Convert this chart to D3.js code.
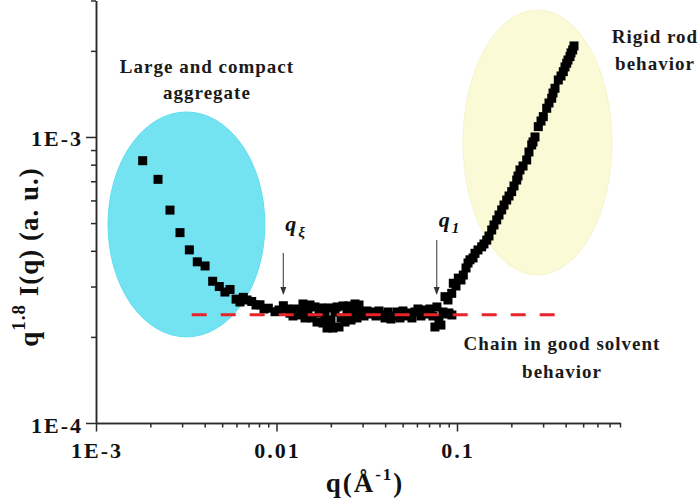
<!DOCTYPE html>
<html><head><meta charset="utf-8">
<script src="https://cdn.jsdelivr.net/npm/d3@7"></script>
<style>body{margin:0;background:#fff}svg{display:block}</style>
</head><body>
<script>
// ---- data ----
// low-q decay
const qLow = [0.001814,0.002206,0.00257,0.00292,0.00329,0.00364,0.00402,0.00443,0.00482,0.00518,
  0.00553,0.00597,0.00655,0.00729,0.0081,0.00901,0.00981,0.01091,0.01188,
  0.006278,0.006865,0.0077,0.008526,0.01032,0.01143];
const iLow = [8.26e-4,7.11e-4,5.55e-4,4.63e-4,4.03e-4,3.66e-4,3.54e-4,3.13e-4,3.00e-4,2.87e-4,
  2.93e-4,2.71e-4,2.75e-4,2.66e-4,2.59e-4,2.52e-4,2.45e-4,2.57e-4,2.42e-4,
  2.649e-4,2.692e-4,2.586e-4,2.504e-4,2.484e-4,2.504e-4];
// plateau
const qMid = [0.01234,0.01266,0.01316,0.01367,0.01402,0.01439,0.01495,0.01533,0.01573,0.01634,
  0.01677,0.0172,0.01764,0.0181,0.01857,0.01905,0.01954,0.02004,0.02056,0.02109,
  0.02164,0.0222,0.02277,0.02336,0.02396,0.02458,0.02522,0.02587,0.02654,0.02722,
  0.02793,0.02865,0.02939,0.03053,0.03172,0.03296,0.03424,0.03557,0.03696,0.0384,
  0.0399,0.04146,0.04307,0.04475,0.04649,0.04831,0.05019,0.05215,0.05418,0.05629,
  0.05848,0.06076,0.06313,0.06559,0.06815,0.07081,0.07357,0.07546,0.07741,0.07941,
  0.08146,0.08356,0.08682,0.09021,0.09372];
const iMid = [2.367e-4,2.504e-4,2.386e-4,2.464e-4,2.607e-4,2.329e-4,2.464e-4,2.586e-4,2.329e-4,2.545e-4,
  2.254e-4,2.425e-4,2.525e-4,2.236e-4,2.367e-4,2.148e-4,2.525e-4,2.291e-4,2.148e-4,2.444e-4,
  2.545e-4,2.166e-4,2.329e-4,2.566e-4,2.254e-4,2.405e-4,2.566e-4,2.291e-4,2.444e-4,2.607e-4,
  2.329e-4,2.586e-4,2.444e-4,2.367e-4,2.464e-4,2.405e-4,2.444e-4,2.367e-4,2.464e-4,2.386e-4,
  2.329e-4,2.444e-4,2.31e-4,2.367e-4,2.444e-4,2.329e-4,2.464e-4,2.367e-4,2.425e-4,2.329e-4,
  2.444e-4,2.504e-4,2.367e-4,2.484e-4,2.405e-4,2.504e-4,2.367e-4,2.166e-4,2.545e-4,2.291e-4,
  2.2e-4,2.444e-4,2.405e-4,2.425e-4,2.386e-4];
// high-q rise
const qHigh = [0.0858,0.0935,0.0954,0.1017,0.1084,0.118,0.1258,0.137,0.1461,0.1557,
  0.166,0.1769,0.1885,0.2009,0.2142,0.2234,0.2433,0.2594,0.2705,0.2821,
  0.3007,0.3141,0.3348,0.3491,0.3641,0.3881,0.4053,0.4227,0.4375,
  0.08914,0.09873,0.1052,0.1122,0.1151,0.1227,0.1307,0.1411,0.1504,0.1603,
  0.1709,0.1822,0.1942,0.2069,0.2178,0.2322,0.2505,0.2637,0.2921,0.3234,
  0.3404,0.377,0.3966,0.4121,0.4281,0.4449];
const iHigh = [2.765e-4,2.84e-4,3.08e-4,3.21e-4,3.29e-4,3.72e-4,3.92e-4,4.13e-4,4.36e-4,4.73e-4,
  5.13e-4,5.56e-4,6.02e-4,6.44e-4,7.07e-4,7.67e-4,8.31e-4,9.38e-4,1.0e-3,1.087e-3,
  1.178e-3,1.26e-3,1.366e-3,1.48e-3,1.582e-3,1.692e-3,1.81e-3,1.91e-3,2.015e-3,
  2.692e-4,3.013e-4,3.162e-4,3.483e-4,3.626e-4,3.775e-4,4.027e-4,4.226e-4,4.507e-4,4.925e-4,
  5.337e-4,5.783e-4,6.218e-4,6.74e-4,7.305e-4,7.916e-4,8.863e-4,9.605e-4,1.137e-3,1.315e-3,
  1.425e-3,1.634e-3,1.757e-3,1.858e-3,1.967e-3,2.081e-3];

const xMajorTicks = [0.001, 0.01, 0.1];
const xTickLabels = ["1E-3", "0.01", "0.1"];
const yMajorTicks = [1e-4, 1e-3];
const yTickLabels = ["1E-4", "1E-3"];
const xDomain = [0.001, 0.8];
const yDomain = [1e-4, 3e-3];
const plateauLevel = 2.39e-4;
const plateauRange = [0.00339, 0.35];
const arrowQ = [0.01091, 0.0772];
const arrowFrom = [3.93e-4, 4.36e-4];
const arrowTo = [2.80e-4, 2.80e-4];
const arrowSub = ["ξ", "1"];
const regionQ = [[0.001166, 0.00862], [0.108, 0.722]];
const regionI = [[2.0e-4, 1.223e-3], [3.29e-4, 2.78e-3]];
const regionFill = ["#74e3f1", "#fbfad6"];
const regionStroke = ["#5edef0", "#f6f4cf"];
const noteLines = [["Large and compact", "aggregate"], ["Rigid rod", "behavior"], ["Chain in good solvent", "behavior"]];

// ---- chart ----
const W = 700, H = 504;
const svg = d3.select("body").append("svg").attr("width", W).attr("height", H);
const x = d3.scaleLog().domain(xDomain).range([96, 620]);
const y = d3.scaleLog().domain(yDomain).range([423, 0.5]);
const font = "'Liberation Serif','Times New Roman',serif";

// shaded regions
regionQ.forEach((rq, k) => {
  const x0 = x(rq[0]), x1 = x(rq[1]), y0 = y(regionI[k][0]), y1 = y(regionI[k][1]);
  svg.append("ellipse")
    .attr("cx", (x0 + x1) / 2).attr("cy", (y0 + y1) / 2)
    .attr("rx", (x1 - x0) / 2).attr("ry", (y0 - y1) / 2)
    .attr("fill", regionFill[k]).attr("stroke", regionStroke[k]).attr("stroke-width", 1);
});

// data markers
const qAll = qLow.concat(qMid, qHigh);
const iAll = iLow.concat(iMid, iHigh);
const pts = qAll.map((q, i) => ({q, v: iAll[i]}));
const S = 9;
svg.append("g").selectAll("rect").data(pts).join("rect")
  .attr("x", d => x(d.q) - S / 2).attr("y", d => y(d.v) - S / 2)
  .attr("width", S).attr("height", S).attr("fill", "#000");

// plateau dashed line
svg.append("line")
  .attr("x1", x(plateauRange[0])).attr("x2", x(plateauRange[1]))
  .attr("y1", y(plateauLevel)).attr("y2", y(plateauLevel))
  .attr("stroke", "#e8232a").attr("stroke-width", 3).attr("stroke-dasharray", "15,14");

// axes
const minorX = [];
[0.001, 0.01, 0.1].forEach(d => { for (let m = 2; m <= 9; m++) { const v = d * m; if (v <= 0.8001) minorX.push(v); } });
const minorY = [];
[1e-4, 1e-3].forEach(d => { for (let m = 2; m <= 9; m++) { const v = d * m; if (v <= 3.0001e-3) minorY.push(v); } });

function styleAxis(g) {
  g.selectAll("path,line").attr("stroke", "#2a2a2a").attr("stroke-width", 1.5);
  g.selectAll("text").remove();
}
svg.append("g").attr("transform", "translate(0,423)")
  .call(d3.axisBottom(x).tickValues(minorX).tickSize(4.5).tickSizeOuter(0).tickFormat("")).call(styleAxis);
svg.append("g").attr("transform", "translate(0,423)")
  .call(d3.axisBottom(x).tickValues(xMajorTicks).tickSize(8.5).tickSizeOuter(0).tickFormat("")).call(styleAxis);
svg.append("g").attr("transform", "translate(96,0)")
  .call(d3.axisLeft(y).tickValues(minorY).tickSize(5).tickSizeOuter(0).tickFormat("")).call(styleAxis);
svg.append("g").attr("transform", "translate(96,0)")
  .call(d3.axisLeft(y).tickValues(yMajorTicks).tickSize(10).tickSizeOuter(0).tickFormat("")).call(styleAxis);

// tick labels
svg.append("g").selectAll("text").data(xMajorTicks).join("text")
  .attr("x", d => x(d) + 1).attr("y", 458).attr("text-anchor", "middle")
  .attr("font-family", font).attr("font-weight", "bold").attr("font-size", 22)
  .attr("letter-spacing", 2).attr("fill", "#111")
  .text((d, i) => xTickLabels[i]);
svg.append("g").selectAll("text").data(yMajorTicks).join("text")
  .attr("x", 83).attr("y", d => y(d) + 9.5).attr("text-anchor", "end")
  .attr("font-family", font).attr("font-weight", "bold").attr("font-size", 22)
  .attr("letter-spacing", 2).attr("fill", "#111")
  .text((d, i) => yTickLabels[i]);

// axis titles
const xt = svg.append("text").attr("x", 365).attr("y", 492).attr("text-anchor", "middle")
  .attr("font-family", font).attr("font-weight", "bold").attr("font-size", 27)
  .attr("letter-spacing", 2).attr("fill", "#111");
xt.append("tspan").text("q(Å");
xt.append("tspan").attr("dy", -12).attr("font-size", 17).text("-1");
xt.append("tspan").attr("dy", 12).text(")");

const yt = svg.append("text").attr("transform", "translate(38,257) rotate(-90)")
  .attr("text-anchor", "middle")
  .attr("font-family", font).attr("font-weight", "bold").attr("font-size", 27)
  .attr("letter-spacing", 1).attr("fill", "#111");
yt.append("tspan").text("q");
yt.append("tspan").attr("dy", -13).attr("font-size", 19).text("1.8");
yt.append("tspan").attr("dy", 13).text(" I(q) (a. u.)");

// arrows with labels
arrowQ.forEach((q, k) => {
  const ax = x(q), ya = y(arrowFrom[k]), yb = y(arrowTo[k]);
  svg.append("line").attr("x1", ax).attr("x2", ax).attr("y1", ya).attr("y2", yb - 6)
    .attr("stroke", "#555").attr("stroke-width", 1.2);
  svg.append("path").attr("d", `M${ax - 3},${yb - 8}L${ax + 3},${yb - 8}L${ax},${yb}Z`).attr("fill", "#333");
  const t = svg.append("text").attr("x", ax + 2).attr("y", ya - 22 + (k === 0 ? 0 : 9))
    .attr("font-family", font).attr("font-weight", "bold").attr("font-style", "italic")
    .attr("font-size", 22).attr("fill", "#111");
  t.append("tspan").text("q");
  t.append("tspan").attr("dy", 6).attr("dx", 2).attr("font-size", 15).text(arrowSub[k]);
});

// region notes
const notePos = [[207, 73, 99], [655, 43, 70], [562, 350, 378]];
noteLines.forEach((lines, k) => {
  lines.forEach((s, j) => {
    svg.append("text").attr("x", notePos[k][0]).attr("y", notePos[k][1 + j])
      .attr("text-anchor", "middle").attr("font-family", font).attr("font-weight", "bold")
      .attr("font-size", 19).attr("letter-spacing", 1).attr("fill", "#1a1a1a").text(s);
  });
});
</script>
</body></html>
